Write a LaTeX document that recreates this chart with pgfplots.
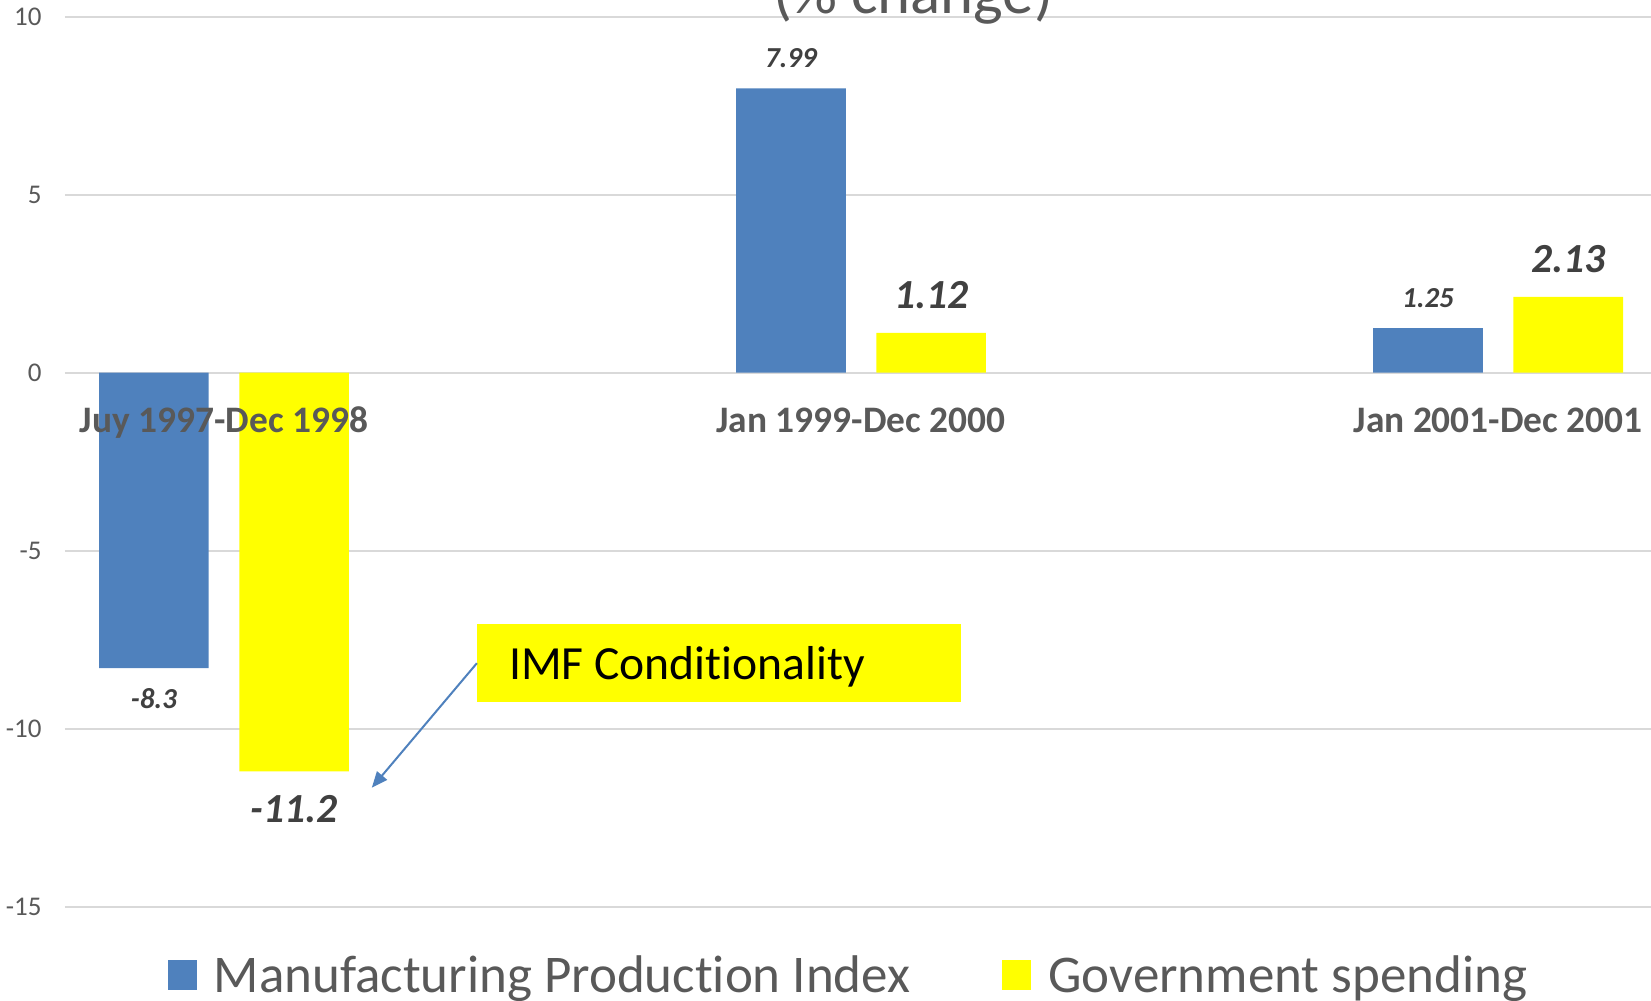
\documentclass[border=0pt]{standalone}
\usepackage{fontspec}
\setmainfont{Carlito}[Ligatures=NoCommon]
\usepackage{pgfplots}
\pgfplotsset{compat=1.18}
\usetikzlibrary{arrows.meta}
\definecolor{mpblue}{RGB}{79,129,189}
\definecolor{gsyellow}{RGB}{255,255,0}
\definecolor{gridgray}{RGB}{217,217,217}
\definecolor{txtgray}{RGB}{89,89,89}
\definecolor{lblgray}{RGB}{64,64,64}
\begin{document}
\begin{tikzpicture}
\useasboundingbox (-32.5pt,-47.2pt) rectangle (793pt,453.3pt);
\clip (-32.5pt,-47.2pt) rectangle (793pt,453.3pt);
\begin{axis}[
  scale only axis, width=793pt, height=444.9pt,
  xmin=-0.2496, xmax=2.24, ymin=-15, ymax=10,
  ytick={-15,-10,-5,0,5,10},
  xtick=\empty,
  ymajorgrids, grid style={draw=gridgray, line width=1pt},
  axis line style={draw=none},
  major tick length=0pt,
  yticklabel style={font=\fontsize{13.5}{16}\selectfont, text=txtgray, anchor=east, inner sep=0pt, xshift=-11.5pt},
  /pgf/number format/assume math mode=true,
  clip=false,
  legend columns=2, legend cell align=left,
  legend style={at={(axis description cs:0,0)}, xshift=51.1pt, yshift=-34.4pt, anchor=west,
    draw=none, fill=none, inner xsep=0pt, inner ysep=0pt,
    font=\fontsize{26.5}{31}\selectfont, text=txtgray,
    /tikz/every odd column/.append style={column sep=6.6pt},
    /tikz/every even column/.append style={column sep=43.9pt}},
]
\addplot[ybar, bar width=54.8pt, bar shift=-35.05pt, fill=mpblue, draw=none,
  nodes near coords, nodes near coords align=vertical,
  every node near coord/.append style={font=\bfseries\itshape\fontsize{14.5}{17}\selectfont, text=lblgray, inner ysep=10pt, inner xsep=0pt, xshift=-35.05pt},
  legend image code/.code={\fill[mpblue] (0pt,-7.5pt) rectangle (14.5pt,7.5pt);}]
  coordinates {(0,-8.3) (1,7.99) (2,1.25)};
\addlegendentry{Manufacturing Production Index}
\addplot[ybar, bar width=54.8pt, bar shift=35.05pt, fill=gsyellow, draw=none,
  nodes near coords, nodes near coords align=vertical,
  every node near coord/.append style={font=\bfseries\itshape\fontsize{20.7}{24}\selectfont, text=lblgray, inner ysep=12pt, inner xsep=0pt, xshift=35.05pt},
  legend image code/.code={\fill[gsyellow] (0pt,-7.5pt) rectangle (14.5pt,7.5pt);}]
  coordinates {(0,-11.2) (1,1.12) (2,2.13)};
\addlegendentry{Government spending}
\node[font=\bfseries\fontsize{18.7}{22}\selectfont, text=txtgray, anchor=base] at (axis cs:0,-1.666) {Juy 1997-Dec 1998};
\node[font=\bfseries\fontsize{18.7}{22}\selectfont, text=txtgray, anchor=base] at (axis cs:1,-1.666) {Jan 1999-Dec 2000};
\node[font=\bfseries\fontsize{18.7}{22}\selectfont, text=txtgray, anchor=base] at (axis cs:2,-1.666) {Jan 2001-Dec 2001};
\fill[gsyellow] (axis cs:0.397,-7.06) rectangle (axis cs:1.157,-9.25);
\node[anchor=base west, inner sep=0pt, font=\fontsize{23.8}{28}\selectfont, text=black] at (axis cs:0.4468,-8.606) {IMF Conditionality};
\draw[mpblue, line width=1pt, -{Triangle[length=8pt,width=6.5pt]}] (axis cs:0.397,-8.16) -- (axis cs:0.232,-11.66);
\node[anchor=base, font=\fontsize{31.4}{36}\selectfont, text=txtgray] at (axis cs:1.0816,10.10) {(\% change)};
\end{axis}
\end{tikzpicture}
\end{document}
